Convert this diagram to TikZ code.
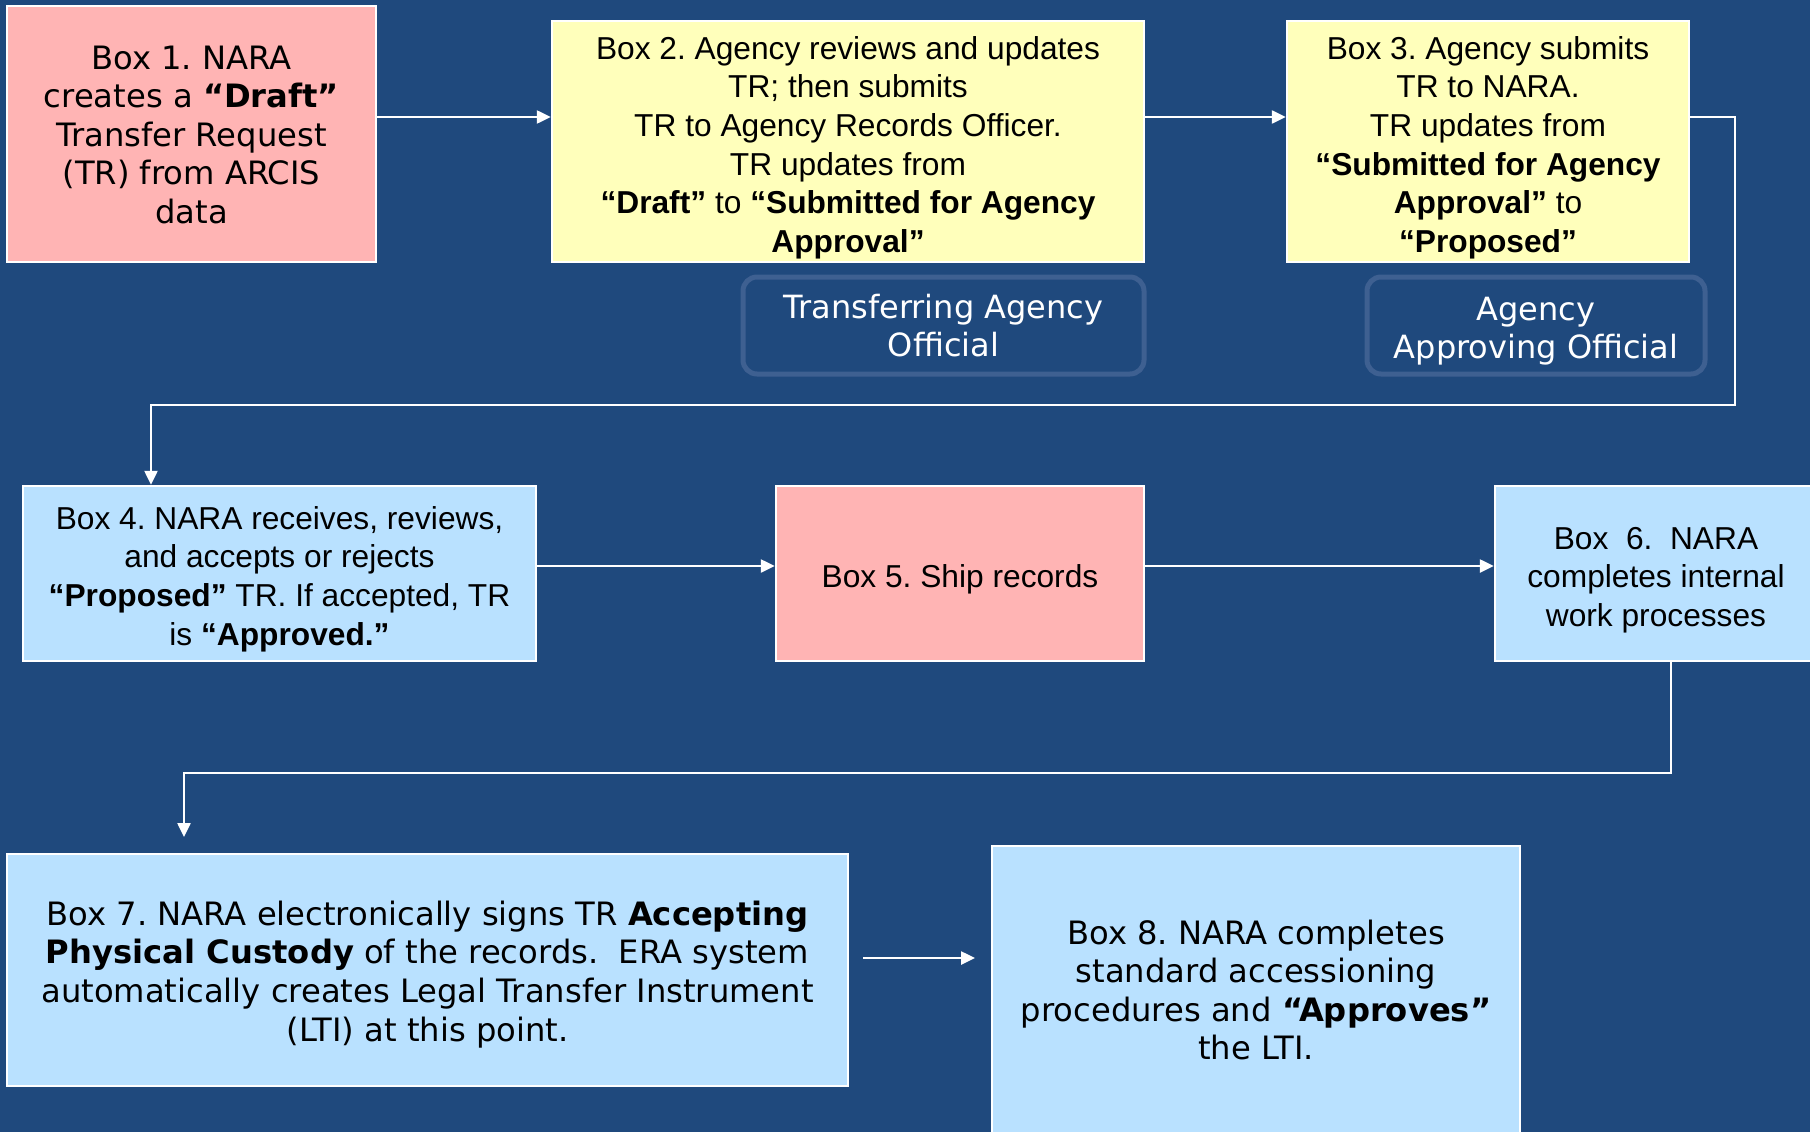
\documentclass[tikz,border=0pt]{standalone}
\usepackage{fontspec}
\setmainfont{Liberation Sans}
\newfontfamily\tahfont{DejaVu Sans}
\usetikzlibrary{arrows.meta}
\definecolor{bgblue}{RGB}{31,73,125}
\definecolor{pinkbox}{RGB}{255,180,180}
\definecolor{yellowbox}{RGB}{255,255,187}
\definecolor{bluebox}{RGB}{185,225,255}
\definecolor{roleedge}{RGB}{62,96,145}
\frenchspacing
\begin{document}
\begin{tikzpicture}[x=1pt,y=-1pt,
  flowbox/.style={draw=white,line width=2.5pt,inner sep=0pt,align=center,text=black},
  arialtext/.style={font=\frenchspacing\fontsize{31.7}{38.6}\selectfont},
  tahtext/.style={font=\frenchspacing\tahfont\fontsize{32.2}{38.6}\selectfont},
  rolebox/.style={draw=roleedge,line width=5pt,rounded corners=14pt,inner sep=0pt,align=center,text=white,font=\frenchspacing\tahfont\fontsize{32}{38}\selectfont},
  conn/.style={draw=white,line width=2.5pt,-{Triangle[length=14pt,width=13pt]}}
]
\useasboundingbox (0,0) rectangle (1810,1132);
\fill[bgblue] (0,0) rectangle (1810,1132);

% boxes
\node[flowbox,tahtext,fill=pinkbox,minimum width=369pt,minimum height=256pt] (b1) at (191.5,134)
  {\rule{0pt}{25pt}Box 1. NARA\\creates a \textbf{“Draft”}\\Transfer Request\\(TR) from ARCIS\\data};
\node[flowbox,arialtext,fill=yellowbox,minimum width=592pt,minimum height=241pt] (b2) at (848,141.5)
  {\rule{0pt}{35pt}Box 2. Agency reviews and updates\\TR; then submits\\TR to Agency Records Officer.\\TR updates from\\\textbf{“Draft”} to \textbf{“Submitted for Agency}\\\textbf{Approval”}};
\node[flowbox,arialtext,fill=yellowbox,minimum width=402pt,minimum height=241pt] (b3) at (1488,141.5)
  {\rule{0pt}{35pt}Box 3. Agency submits\\TR to NARA.\\TR updates from\\\textbf{“Submitted for Agency}\\\textbf{Approval”} to\\\textbf{“Proposed”}};
\node[rolebox,minimum width=401pt,minimum height=97pt] (tao) at (943.5,325.5)
  {\rule{0pt}{25pt}Transferring Agency\\Official};
\node[rolebox,minimum width=338pt,minimum height=97pt] (aao) at (1536,325.5)
  {\rule{0pt}{35pt}Agency\\Approving Official};
\node[flowbox,arialtext,fill=bluebox,minimum width=513pt,minimum height=175pt] (b4) at (279.5,573.5)
  {\rule{0pt}{34pt}Box 4. NARA receives, reviews,\\and accepts or rejects\\\textbf{“Proposed”} TR. If accepted, TR\\is \textbf{“Approved.”}};
\node[flowbox,arialtext,fill=pinkbox,minimum width=368pt,minimum height=175pt] (b5) at (960,573.5)
  {\rule{0pt}{35pt}Box 5. Ship records};
\node[flowbox,arialtext,fill=bluebox,minimum width=322pt,minimum height=175pt] (b6) at (1656,573.5)
  {\rule{0pt}{35pt}Box~~6.~~NARA\\completes internal\\work processes};
\node[flowbox,tahtext,fill=bluebox,minimum width=841pt,minimum height=232pt] (b7) at (427.5,970)
  {\rule{0pt}{33pt}Box 7. NARA electronically signs TR \textbf{Accepting}\\\textbf{Physical Custody} of the records.~~ERA system\\automatically creates Legal Transfer Instrument\\(LTI) at this point.};
\node[flowbox,tahtext,fill=bluebox,minimum width=528pt,minimum height=288pt] (b8) at (1256,990)
  {Box 8. NARA completes\\standard accessioning\\procedures and \textbf{“Approves”}\\the LTI.};

% helper coordinates
\coordinate (r1) at (0,117);
\coordinate (r2) at (0,566);
\coordinate (k1) at (1735,405);
\coordinate (k2) at (151,0);
\coordinate (k3) at (1671,0);
\coordinate (k4) at (184,773);
\coordinate (e7) at (184,837);
\coordinate (a7) at (863,958);
\coordinate (a8) at (975,958);

% connectors
\draw[conn] (b1.east |- r1) -- (b2.west |- r1);
\draw[conn] (b2.east |- r1) -- (b3.west |- r1);
\draw[conn] (b3.east |- r1) -| (k1) -| (b4.north -| k2);
\draw[conn] (b4.east |- r2) -- (b5.west |- r2);
\draw[conn] (b5.east |- r2) -- (b6.west |- r2);
\draw[conn] (b6.south -| k3) |- (k4) -- (e7);
\draw[conn] (a7) -- (a8);
\end{tikzpicture}
\end{document}
